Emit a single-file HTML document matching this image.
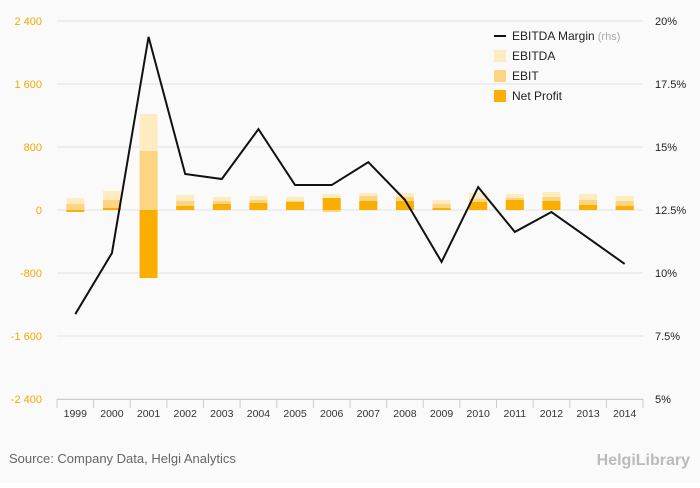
<!DOCTYPE html>
<html><head><meta charset="utf-8"><style>
body{margin:0;background:#fff;font-family:"Liberation Sans",sans-serif}
#wrap{width:700px;height:483px;background:#fafafa;position:relative}
</style></head><body>
<div id="wrap">
<svg id="c" width="700" height="483"></svg>
</div>
<script>
const years=[1999,2000,2001,2002,2003,2004,2005,2006,2007,2008,2009,2010,2011,2012,2013,2014];
const ebitda=[152,241,1219,190,165,178,165,203,216,216,127,216,203,229,203,178];
const ebit=[76,127,749,114,114,127,114,-25,178,165,76,140,152,165,127,114];
const netProfit=[-25,25,-864,51,76,89,102,152,114,114,25,102,127,114,64,51];
const margin=[8.37,10.79,19.37,13.93,13.73,15.71,13.49,13.49,14.40,12.9,10.44,13.41,11.63,12.42,11.39,10.36];
const leftTicks=[-2400,-1600,-800,0,800,1600,2400];
const leftLabels=["-2 400","-1 600","-800","0","800","1 600","2 400"];
const rightTicks=[5,7.5,10,12.5,15,17.5,20];
const rightLabels=["5%","7.5%","10%","12.5%","15%","17.5%","20%"];
const NS="http://www.w3.org/2000/svg",svg=document.getElementById('c');
const X0=57,X1=643,Y0=399,Y1=21;
const step=(X1-X0)/years.length;
const xc=i=>X0+step*(i+0.5);
const yL=v=>Y0-(v+2400)/4800*(Y0-Y1);
const yR=v=>Y0-(v-5)/15*(Y0-Y1);
function el(t,a,txt){const e=document.createElementNS(NS,t);for(const k in a)e.setAttribute(k,a[k]);if(txt!=null)e.textContent=txt;svg.appendChild(e);return e;}
leftTicks.forEach((t,i)=>{
 const g=el('line',{x1:X0,x2:X1,y1:yL(t),y2:yL(t),stroke:'#e2e2e2','stroke-width':1});
 
 
 const l=el('text',{x:42,y:yL(t)+4,'text-anchor':'end','font-size':11,fill:'#f2a900'},leftLabels[i]);
 
 
});
rightTicks.forEach((t,i)=>{
 const l=el('text',{x:655,y:yR(t)+4,'font-size':11,fill:'#222'},rightLabels[i]);
 
 
});
const ax=el('line',{x1:X0,x2:X1,y1:Y0+0.5,y2:Y0+0.5,stroke:'#ccc'});


for(let i=0;i<=years.length;i++){
 const t=el('line',{x1:X0+step*i,x2:X0+step*i,y1:Y0,y2:Y0+9,stroke:'#ccc'});
 
 
}
const bw=18;
function bar(i,v,color,name){
 const y=Math.min(yL(0),yL(v)),h=Math.abs(yL(v)-yL(0));
 const r=el('rect',{x:xc(i)-bw/2,y:y,width:bw,height:h,fill:color});
 
 
}
years.forEach((yr,i)=>{
 bar(i,ebitda[i],'#feebc0','bar-ebitda');
 bar(i,ebit[i],'#fdd582','bar-ebit');
 bar(i,netProfit[i],'#f9ae00','bar-net-profit');
 const l=el('text',{x:xc(i),y:417,'text-anchor':'middle','font-size':10.5,fill:'#333'},yr);
 
 
});
const p=el('polyline',{points:margin.map((m,i)=>xc(i)+','+yR(m)).join(' '),fill:'none',stroke:'#111','stroke-width':2,'stroke-linejoin':'miter'});


// legend
const leg=[['line','#111','EBITDA Margin',' (rhs)'],['rect','#feebc0','EBITDA'],['rect','#fdd582','EBIT'],['rect','#f9ae00','Net Profit']];
leg.forEach((d,i)=>{
 const y=36+i*20;
 let s;
 if(d[0]=='line') s=el('line',{x1:494,x2:506,y1:y,y2:y,stroke:d[1],'stroke-width':2});
 else s=el('rect',{x:494,y:y-6,width:12,height:12,fill:d[1]});
 
 
 const t=el('text',{x:512,y:y+4,'font-size':12,fill:'#222'},d[2]);
 if(d[3]){const ts=document.createElementNS(NS,'tspan');ts.setAttribute('fill','#aaa');ts.setAttribute('font-size','11');ts.textContent=d[3];t.appendChild(ts);}
 
 
});
const src=el('text',{x:9,y:463,'font-size':13,fill:'#666'},'Source: Company Data, Helgi Analytics');


const lg=el('text',{x:690,y:465,'text-anchor':'end','font-size':16,fill:'#bbb','font-weight':'bold'},'HelgiLibrary');


</script>
</body></html>
